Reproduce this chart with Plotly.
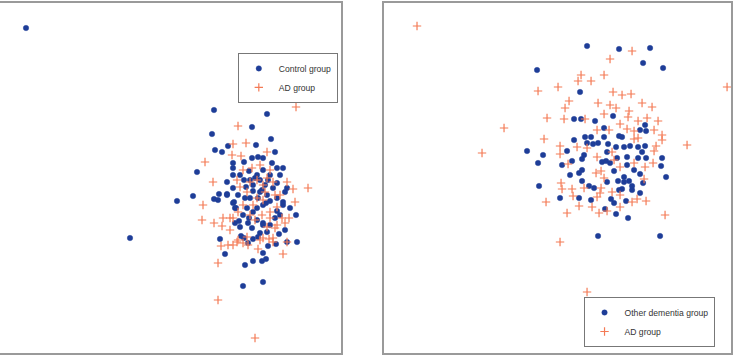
import plotly.graph_objects as go
from plotly.subplots import make_subplots

# ---- Left panel: Control group vs AD group (picture units) ----
ctrl_x = [26,214,267,252,212,271,228,256,215,222,275,197,283,233,244,252,258,263,272,
          177,193,214,219,227,233,233,240,244,249,253,257,263,270,277,280,277,285,233,238,245,227,233,235,247,253,257,263,270,277,283,290,296,280,275,270,263,257,249,243,240,252,260,267,285,279,297,287,220,235,248,258,253,260,250,273,267,
          130,225,245,253,262,266,263,243,263,276,268,218,227,234,236,287,283,277,239,248,263,241,253,244,
          260,265,255,268,262,258,266,250,246]
ctrl_y = [28,110,114,127,134,139,146,145,150,152,152,172,168,163,162,158,157,158,163,
          201,196,199,194,182,168,175,175,180,171,185,175,170,175,168,175,183,192,188,195,198,194,203,208,208,212,208,205,201,198,205,208,215,215,218,225,223,220,218,215,227,228,233,232,230,234,242,242,239,223,243,237,191,192,198,188,195,
          238,254,265,261,261,259,253,286,282,244,246,200,195,202,208,188,202,211,221,223,225,236,239,238,
          180,185,178,180,190,198,203,180,187]
adL_x = [296,238,246,233,232,241,267,205,
         213,203,202,214,223,222,293,308,295,277,285,275,240,247,263,267,243,238,250,255,262,270,230,247,260,237,273,257,253,263,233,270,280,250,257,243,237,273,287,
         233,248,258,283,287,218,218,255,282,289,277,230,267,273,228,221,243,238,263,269,270,260,252,275,265]
adL_y = [107,126,143,144,155,156,152,162,
         182,205,220,223,218,226,189,188,202,207,223,228,187,192,185,178,205,212,215,220,215,212,230,237,240,242,242,198,205,200,218,218,195,182,180,170,180,182,182,
         245,245,249,254,242,263,300,338,218,218,225,218,227,238,245,246,243,240,238,239,170,165,168,195,192]

# ---- Right panel: Other dementia group vs AD group ----
oth_x = [587,619,650,643,663,537,580,574,581,595,613,604,645,640,646,527,543,538,567,562,574,585,591,587,593,598,604,608,584,582,572,607,602,606,617,616,622,619,624,630,638,645,642,646,638,627,627,610,614,624,634,640,662,661,666,570,579,582,
         539,560,579,591,605,616,628,598,660,626,614,611,619,622,632,632,640,643,607,618,624,629,594,589,582]
oth_y = [46,49,48,63,68,70,92,119,119,121,116,128,125,130,131,151,155,163,151,165,140,137,137,143,144,143,137,144,155,159,161,152,162,161,158,147,137,136,147,146,147,146,152,158,158,157,165,163,171,177,170,174,158,166,177,175,173,170,
         186,198,198,200,209,214,218,236,236,201,203,199,190,189,190,186,193,183,182,181,182,181,188,186,181]
adR_x = [417,632,610,604,581,578,591,727,538,558,613,622,631,569,565,598,642,652,610,616,504,547,564,585,604,629,628,638,647,658,620,597,609,627,634,654,544,482,560,560,568,577,587,597,662,662,687,656,654,653,645,634,620,614,601,596,638,634,612,
         560,587,665,546,567,561,562,572,573,579,592,599,607,620,632,646,637,600,601,612,584,597,644,604,620]
adR_y = [26,51,59,75,75,81,81,87,91,87,92,95,94,101,108,103,103,107,105,108,128,118,119,119,114,111,117,121,118,121,124,130,130,129,131,130,139,153,146,154,164,147,148,157,135,140,145,146,151,163,167,163,167,160,171,173,138,139,152,
         242,292,215,202,213,183,189,189,196,206,207,213,211,207,202,201,199,193,188,192,188,197,179,178,195]

BLUE = "#1e3d98"
ORANGE = "#f47a55"

fig = make_subplots(rows=1, cols=2, horizontal_spacing=0.05)

def dots(x, y, name, legend):
    return go.Scatter(x=x, y=y, mode="markers", name=name, legend=legend,
                      marker=dict(symbol="circle", size=5.5, color=BLUE,
                                  line=dict(width=0.8, color="rgba(30,61,152,0.45)")))

def crosses(x, y, name, legend):
    return go.Scatter(x=x, y=y, mode="markers", name=name, legend=legend,
                      marker=dict(symbol="cross-thin", size=6, color=ORANGE,
                                  line=dict(width=1.2, color=ORANGE)))

fig.add_trace(dots(ctrl_x, ctrl_y, "Control group", "legend"), row=1, col=1)
fig.add_trace(crosses(adL_x, adL_y, "AD group", "legend"), row=1, col=1)
fig.add_trace(dots(oth_x, oth_y, "Other dementia group", "legend2"), row=1, col=2)
fig.add_trace(crosses(adR_x, adR_y, "AD group", "legend2"), row=1, col=2)

ax_common = dict(showgrid=False, zeroline=False, showticklabels=False, ticks="",
                 showline=True, mirror=True, linecolor="#9a9a9a", linewidth=1.5)
fig.update_xaxes(**ax_common)
fig.update_yaxes(**ax_common)
fig.update_layout(
    xaxis=dict(domain=[0.0, 0.4646], range=[0, 341]),
    xaxis2=dict(domain=[0.5225, 0.996], range=[383.5, 731]),
    yaxis=dict(domain=[0.007, 0.9915], range=[352.5, 3]),
    yaxis2=dict(domain=[0.007, 0.9915], range=[352.5, 3]),
)

leg_common = dict(bgcolor="white", bordercolor="#777", borderwidth=1,
                  font=dict(family="Liberation Sans, Arial, sans-serif", size=8.6, color="#333"),
                  itemwidth=30, tracegroupgap=0, xanchor="left",
                  itemclick=False)
fig.update_layout(
    legend=dict(x=0.324, y=0.851, yanchor="top", **leg_common),
    legend2=dict(x=0.795, y=0.0225, yanchor="bottom", **leg_common),
    width=734, height=355, margin=dict(l=0, r=0, t=0, b=0),
    plot_bgcolor="white", paper_bgcolor="white",
    showlegend=True,
)

fig.write_html("out.html")
